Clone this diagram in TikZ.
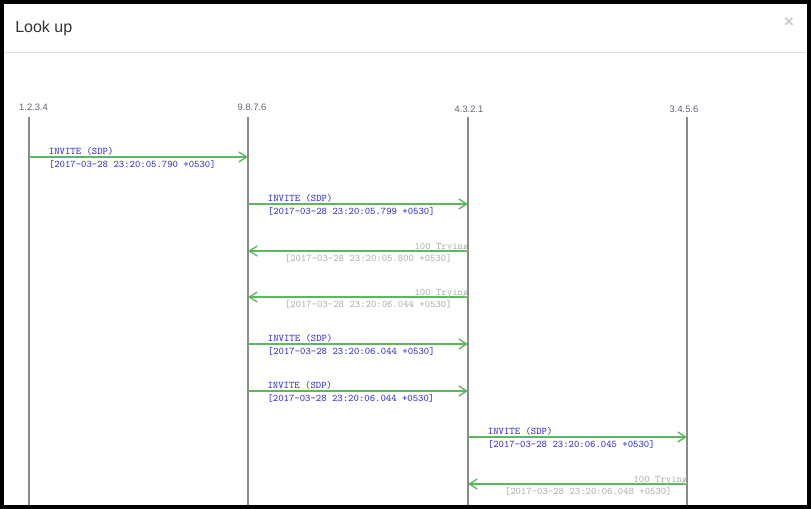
\documentclass[tikz,border=0pt]{standalone}
\usepackage{fontspec}
\setmainfont{Liberation Sans}
\usepackage{xcolor}
\usetikzlibrary{arrows.meta,positioning,calc}

\definecolor{msggreen}{HTML}{5CB85C}
\definecolor{lifegray}{HTML}{8A8A8A}
\definecolor{hostgray}{HTML}{5E6572}
\definecolor{invblue}{HTML}{3535D5}
\definecolor{trygray}{HTML}{B0B0B0}

\begin{document}
\begin{tikzpicture}[
    x=0.75pt, y=-0.75pt,
    title/.style={anchor=west, inner sep=0pt, font=\fontsize{12pt}{14pt}\selectfont, text=black!80},
    closex/.style={inner sep=0pt, font=\bfseries\fontsize{13pt}{14pt}\selectfont, text=black!20},
    host/.style={inner sep=0pt, font=\fontsize{7pt}{8pt}\selectfont, text=hostgray},
    lifeline/.style={draw=lifegray, line width=1.5pt},
    msg/.style={draw=msggreen, line width=1.4pt, -{Straight Barb[length=6pt,width=7.5pt,line width=1pt]}},
    thinmsg/.style={msg, line width=0.8pt},
    invite/.style={inner sep=0pt, anchor=base west, font=\ttfamily\fontsize{7.6pt}{8pt}\selectfont, text=invblue},
    trying/.style={inner sep=0pt, font=\ttfamily\fontsize{7.6pt}{8pt}\selectfont, text=trygray}
]

% Frame and header
\useasboundingbox (0,0) rectangle (811,509);
\fill[black] (0,0) rectangle (811,509);
\fill[white] (4,4) rectangle (807,505);
\node[title] (ttl) at (15,28) {Look up};
\node[closex] (cls) at (789,22.5) {×};
\draw[black!12, line width=0.75pt] (4,53) -- (807,53);

% Hosts and lifelines
\coordinate (a) at (29,117);
\coordinate (b) at (248,117);
\coordinate (c) at (468,117);
\coordinate (d) at (687,117);
\coordinate (bot) at (0,505);
\node[host] (ha) at (33.5,107) {1.2.3.4};
\node[host] (hb) at (252,107) {9.8.7.6};
\node[host] (hc) at (469,109) {4.3.2.1};
\node[host] (hd) at (684,109) {3.4.5.6};
\foreach \l in {a,b,c,d}
    \draw[lifeline] (\l) -- (\l |- bot);

% Message rows
\coordinate (r1) at (0,157);
\coordinate (r2) at (0,204);
\coordinate (r3) at (0,251);
\coordinate (r4) at (0,297);
\coordinate (r5) at (0,344);
\coordinate (r6) at (0,391);
\coordinate (r7) at (0,437);
\coordinate (r8) at (0,484);

% Messages
\draw[msg] (a |- r1) -- (b |- r1)
    node[invite, pos=0, xshift=14.25pt, yshift=1.5pt] {INVITE (SDP)}
    node[invite, pos=0, xshift=14.25pt, yshift=-7.9pt] {[2017-03-28 23:20:05.790 +0530]};
\draw[msg] (b |- r2) -- (c |- r2)
    node[invite, pos=0, xshift=14.25pt, yshift=1.5pt] {INVITE (SDP)}
    node[invite, pos=0, xshift=14.25pt, yshift=-7.9pt] {[2017-03-28 23:20:05.799 +0530]};
\draw[msg] (c |- r3) -- (b |- r3)
    node[trying, pos=0, anchor=base east, xshift=1pt, yshift=1.2pt] {100 Trying}
    node[trying, pos=1, anchor=base west, xshift=27pt, yshift=-7.9pt] {[2017-03-28 23:20:05.800 +0530]};
\draw[msg] (c |- r4) -- (b |- r4)
    node[trying, pos=0, anchor=base east, xshift=1pt, yshift=1.2pt] {100 Trying}
    node[trying, pos=1, anchor=base west, xshift=27pt, yshift=-7.9pt] {[2017-03-28 23:20:06.044 +0530]};
\draw[msg] (b |- r5) -- (c |- r5)
    node[invite, pos=0, xshift=14.25pt, yshift=1.5pt] {INVITE (SDP)}
    node[invite, pos=0, xshift=14.25pt, yshift=-7.9pt] {[2017-03-28 23:20:06.044 +0530]};
\draw[thinmsg] (b |- r6) -- (c |- r6)
    node[invite, pos=0, xshift=14.25pt, yshift=1.5pt] {INVITE (SDP)}
    node[invite, pos=0, xshift=14.25pt, yshift=-7.9pt] {[2017-03-28 23:20:06.044 +0530]};
\draw[msg] (c |- r7) -- (d |- r7)
    node[invite, pos=0, xshift=14.25pt, yshift=1.5pt] {INVITE (SDP)}
    node[invite, pos=0, xshift=14.25pt, yshift=-7.9pt] {[2017-03-28 23:20:06.045 +0530]};
\draw[msg] (d |- r8) -- (c |- r8)
    node[trying, pos=0, anchor=base east, xshift=1pt, yshift=1.2pt] {100 Trying}
    node[trying, pos=1, anchor=base west, xshift=27pt, yshift=-7.9pt] {[2017-03-28 23:20:06.048 +0530]};

\end{tikzpicture}
\end{document}
